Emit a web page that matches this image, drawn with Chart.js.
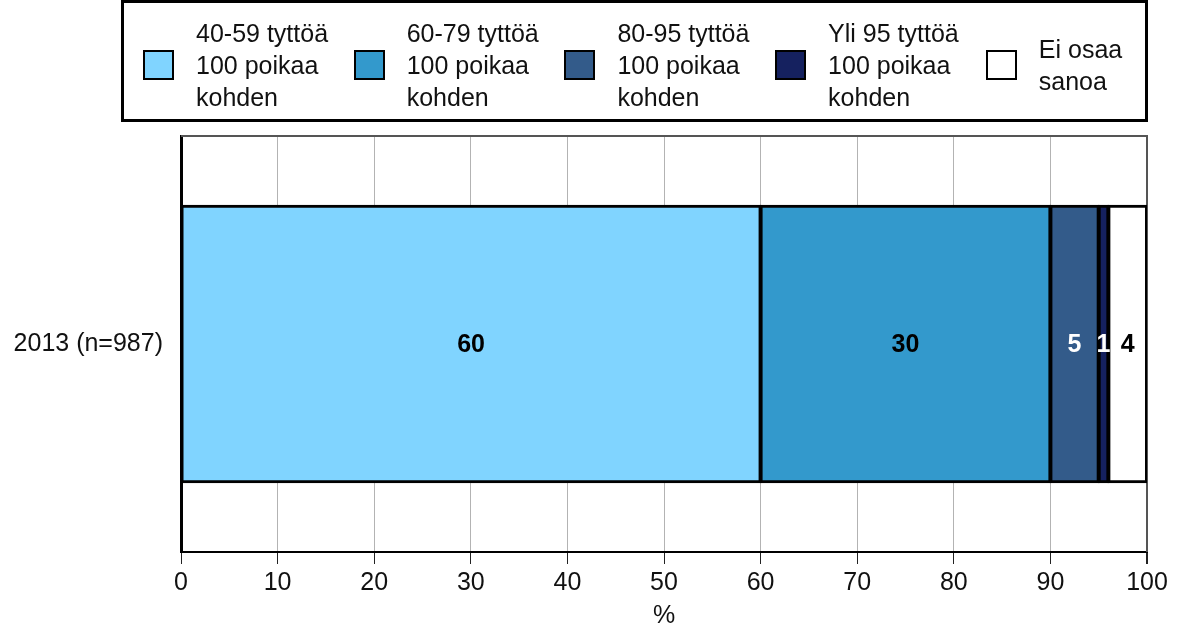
<!DOCTYPE html>
<html>
<head>
<meta charset="utf-8">
<script src="https://cdn.jsdelivr.net/npm/chart.js@4.4.1/dist/chart.umd.min.js"></script>
<style>
    body { margin: 0; background: #fff; font-family: "Liberation Sans", Arial, sans-serif; }
    #wrap { position: relative; width: 1179px; height: 629px; }
    #legend { position: absolute; left: 121px; top: 0; width: 1027px; height: 122px; border: 3px solid #000; box-sizing: border-box; }
    .item { position: absolute; top: 14px; height: 96px; display: flex; align-items: center; }
    .swatch { width: 31px; height: 30px; border: 2px solid #000; box-sizing: border-box; margin-right: 22px; flex: none; }
    .label { font-size: 25px; line-height: 32px; color: #111; white-space: nowrap; }
    canvas { position: absolute; left: 0; top: 0; }
</style>
</head>
<body>
<div id="wrap">
    <canvas id="chart" width="1179" height="629"></canvas>
    <div id="legend"></div>
</div>
<script>
// dati
const categories = ["2013 (n=987)"];
const seriesNames = [
    ["40-59 tyttöä", "100 poikaa", "kohden"],
    ["60-79 tyttöä", "100 poikaa", "kohden"],
    ["80-95 tyttöä", "100 poikaa", "kohden"],
    ["Yli 95 tyttöä", "100 poikaa", "kohden"],
    ["Ei osaa", "sanoa"]
];
const values4059 = [60];
const values6079 = [30];
const values8095 = [5];
const valuesYli95 = [1];
const valuesEiOsaa = [4];
const xTicks = [0, 10, 20, 30, 40, 50, 60, 70, 80, 90, 100];

const seriesValues = [values4059, values6079, values8095, valuesYli95, valuesEiOsaa];
const colors = ["#80d4ff", "#3399cc", "#335b8a", "#15215f", "#ffffff"];
const labelColors = ["#000", "#000", "#fff", "#fff", "#000"];
const fontFamily = '"Liberation Sans", Arial, sans-serif';

// legenda html
const legend = document.getElementById("legend");
seriesNames.forEach((lines, i) => {
    const item = document.createElement("div");
    item.className = "item";
    item.style.left = (19 + i * 210.7) + "px";
    item.innerHTML = `<div class="swatch" style="background:${colors[i]}"></div>
        <div class="label">${lines.join("<br>")}</div>`;
    legend.appendChild(item);
});

const frame = {
    id: "frame",
    beforeDatasetsDraw(chart) {
        const { ctx, chartArea } = chart;
        ctx.save();
        ctx.strokeStyle = "#555";
        ctx.lineWidth = 2;
        ctx.beginPath();
        ctx.moveTo(chartArea.left, chartArea.top);
        ctx.lineTo(chartArea.right, chartArea.top);
        ctx.lineTo(chartArea.right, chartArea.bottom);
        ctx.stroke();
        ctx.restore();
    }
};

const barLabels = {
    id: "barLabels",
    afterDatasetsDraw(chart) {
        const ctx = chart.ctx;
        ctx.save();
        ctx.font = "bold 25px " + fontFamily;
        ctx.textAlign = "center";
        ctx.textBaseline = "middle";
        chart.data.datasets.forEach((ds, i) => {
            chart.getDatasetMeta(i).data.forEach((bar, j) => {
                const p = bar.getCenterPoint();
                ctx.fillStyle = labelColors[i];
                ctx.fillText(ds.data[j], p.x, p.y + 1);
            });
        });
        ctx.restore();
    }
};

const ctx = document.getElementById("chart").getContext("2d");
new Chart(ctx, {
    type: "bar",
    data: {
        labels: categories,
        datasets: seriesValues.map((vals, i) => ({
            label: seriesNames[i].join(" "),
            data: vals,
            backgroundColor: colors[i],
            borderColor: "#000",
            borderWidth: 3,
            borderSkipped: false,
            inflateAmount: 1,
            categoryPercentage: 1,
            barPercentage: 0.665
        }))
    },
    options: {
        indexAxis: "y",
        responsive: false,
        animation: false,
        layout: { padding: { top: 136, right: 32, left: 0, bottom: 0 } },
        plugins: {
            legend: { display: false },
            tooltip: { enabled: false }
        },
        scales: {
            x: {
                stacked: true,
                min: 0,
                max: 100,
                afterBuildTicks: (scale) => { scale.ticks = xTicks.map(v => ({ value: v })); },
                afterFit: (scale) => { scale.height = 77; },
                ticks: {
                    color: "#111",
                    padding: 4,
                    font: { family: fontFamily, size: 25 }
                },
                grid: {
                    color: (c) => c.tick && c.tick.value === 100 ? "#555" : "#b3b3b3",
                    lineWidth: (c) => c.tick && c.tick.value === 100 ? 2 : 1,
                    tickLength: 12,
                    tickColor: "#222"
                },
                border: { color: "#000", width: 2 },
                title: {
                    display: true,
                    text: "%",
                    color: "#111",
                    padding: 0,
                    font: { family: fontFamily, size: 25, lineHeight: 1 }
                }
            },
            y: {
                stacked: true,
                afterFit: (scale) => { scale.width = 181; },
                ticks: {
                    color: "#111",
                    padding: 18,
                    font: { family: fontFamily, size: 25 }
                },
                grid: { display: false, drawTicks: false },
                border: { color: "#000", width: 3 }
            }
        }
    },
    plugins: [frame, barLabels]
});
</script>
</body>
</html>
